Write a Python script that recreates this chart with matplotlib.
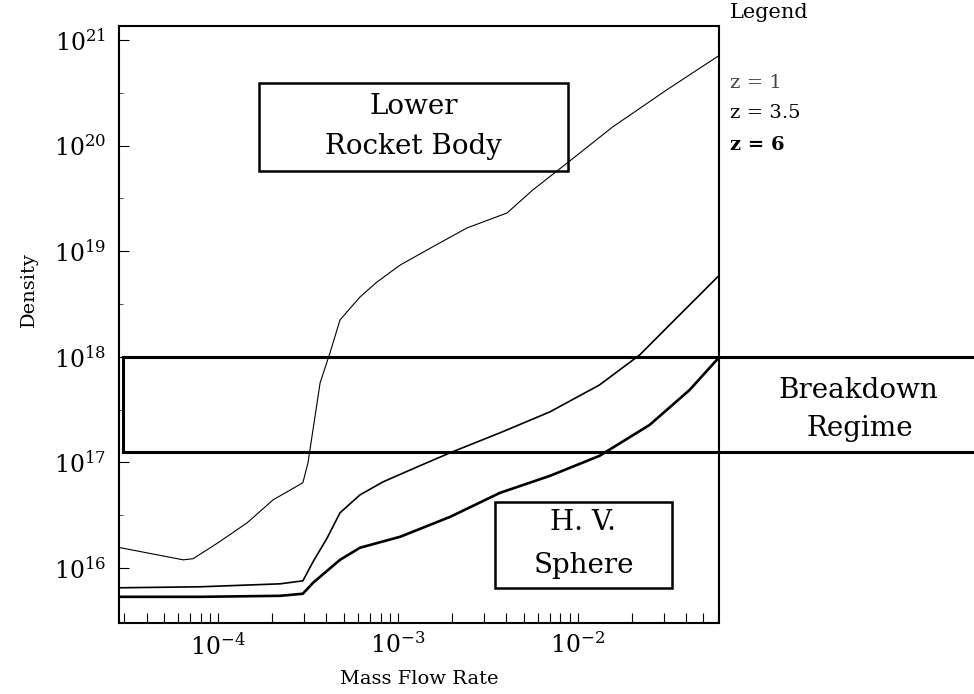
import math
import matplotlib
matplotlib.use("Agg")
import matplotlib.pyplot as plt
from matplotlib.patches import Rectangle
from matplotlib.ticker import FixedLocator, FuncFormatter, NullFormatter
import matplotlib.transforms as mtransforms

plt.rcParams["font.family"] = ["DejaVu Serif"]
plt.rcParams["mathtext.fontset"] = "dejavuserif"

# curve data (mass flow rate, density)
flow_z1 = [2.86e-5, 6.4e-5, 7.26e-5, 1.0e-4, 1.45e-4, 2.02e-4, 2.96e-4, 3.16e-4,
           3.69e-4, 4.19e-4, 4.76e-4, 6.15e-4, 7.64e-4, 1.03e-3, 1.56e-3, 2.42e-3,
           4.04e-3, 5.62e-3, 8.69e-3, 1.56e-2, 3.12e-2, 6.15e-2]
dens_z1 = [1.55e16, 1.19e16, 1.22e16, 1.73e16, 2.67e16, 4.4e16, 6.4e16, 9.9e16,
           5.65e17, 1.09e18, 2.23e18, 3.68e18, 5.1e18, 7.4e18, 1.1e19, 1.66e19,
           2.3e19, 3.8e19, 6.8e19, 1.5e20, 3.37e20, 7.2e20]

flow_z35 = [2.86e-5, 7.94e-5, 2.21e-4, 2.96e-4, 3.37e-4, 4.04e-4, 4.76e-4, 6.15e-4,
            8.26e-4, 1.28e-3, 1.95e-3, 3.69e-3, 6.99e-3, 1.32e-2, 2.21e-2, 3.37e-2,
            4.76e-2, 6.15e-2]
dens_z35 = [6.47e15, 6.61e15, 7.05e15, 7.53e15, 1.14e16, 1.92e16, 3.32e16, 4.91e16,
            6.52e16, 9.04e16, 1.23e17, 1.9e17, 3.0e17, 5.4e17, 1.04e18, 2.14e18,
            3.85e18, 5.96e18]

flow_z6 = [2.86e-5, 7.94e-5, 2.21e-4, 2.96e-4, 3.37e-4, 4.76e-4, 6.15e-4, 1.03e-3,
           1.95e-3, 3.69e-3, 6.99e-3, 1.32e-2, 2.51e-2, 4.19e-2, 6.15e-2]
dens_z6 = [5.31e15, 5.31e15, 5.43e15, 5.68e15, 7.21e15, 1.19e16, 1.55e16, 1.97e16,
           3.04e16, 5.13e16, 7.43e16, 1.15e17, 2.26e17, 4.85e17, 1.0e18]

breakdown_lo = 1.26e17
breakdown_hi = 1.0e18

x_major = [1e-4, 1e-3, 1e-2]
y_major = [1e16, 1e17, 1e18, 1e19, 1e20, 1e21]

fig = plt.figure(figsize=(9.74, 6.94), dpi=100)
ax = fig.add_axes([119 / 974, 71 / 694, 600 / 974, 597 / 694])

ax.plot(flow_z1, dens_z1, color="black", lw=0.8)
ax.plot(flow_z35, dens_z35, color="black", lw=1.2)
ax.plot(flow_z6, dens_z6, color="black", lw=1.9)

ax.set_xscale("log")
ax.set_yscale("log")
ax.set_xlim(2.81e-5, 6.1e-2)
ax.set_ylim(3.0e15, 1.36e21)

# x ticks: every minor position, same length
x_minor = [m * 10.0 ** e for e in (-5, -4, -3, -2) for m in range(2, 10)]
ax.xaxis.set_major_locator(FixedLocator(x_major))
ax.xaxis.set_minor_locator(FixedLocator(x_minor))
ax.xaxis.set_minor_formatter(NullFormatter())
ax.yaxis.set_major_locator(FixedLocator(y_major))
ax.yaxis.set_minor_locator(FixedLocator([3.16 * v for v in y_major]))
ax.yaxis.set_minor_formatter(NullFormatter())

fmt = FuncFormatter(lambda v, p: r"$\mathregular{10^{%d}}$" % round(math.log10(v)))
ax.xaxis.set_major_formatter(fmt)
ax.yaxis.set_major_formatter(fmt)
ax.tick_params(axis="both", which="both", direction="in", top=False, right=False)
ax.tick_params(axis="x", which="both", length=7, width=0.8, labelsize=17, pad=7)
ax.tick_params(axis="y", which="major", length=7, width=0.8, labelsize=17, pad=9)
ax.tick_params(axis="y", which="minor", length=3, width=0.5)

for s in ax.spines.values():
    s.set_linewidth(1.5)

ax.set_xlabel("Mass Flow Rate", fontsize=14)
ax.set_ylabel("Density", fontsize=14)
ax.xaxis.set_label_coords(0.5, -0.078)
ax.yaxis.set_label_coords(-0.135, 0.558)

# breakdown band running out to the figure edge
tr = mtransforms.blended_transform_factory(fig.transFigure, ax.transData)
x0 = 123 / 974
for yv in (breakdown_lo, breakdown_hi):
    ax.plot([x0, 1.0], [yv, yv], transform=tr, color="black", lw=2.2, clip_on=False)
ax.plot([x0, x0], [breakdown_lo, breakdown_hi], transform=tr, color="black", lw=2.2,
        clip_on=False)

# labelled boxes
ax.add_patch(Rectangle((0.233, 0.757), 0.516, 0.148, transform=ax.transAxes,
                       fill=False, lw=1.8, ec="black"))
ax.text(0.491, 0.865, "Lower", transform=ax.transAxes, ha="center", va="center", fontsize=20)
ax.text(0.491, 0.798, "Rocket Body", transform=ax.transAxes, ha="center", va="center",
        fontsize=20)

ax.add_patch(Rectangle((0.626, 0.0586), 0.296, 0.144, transform=ax.transAxes,
                       fill=False, lw=1.8, ec="black"))
ax.text(0.774, 0.169, "H. V.", transform=ax.transAxes, ha="center", va="center", fontsize=20)
ax.text(0.774, 0.097, "Sphere", transform=ax.transAxes, ha="center", va="center", fontsize=20)

fig.text(858 / 974, 1 - 390 / 694, "Breakdown", ha="center", va="center", fontsize=20)
fig.text(860 / 974, 1 - 428 / 694, "Regime", ha="center", va="center", fontsize=20)

# legend
fig.text(730 / 974, 1 - 13 / 694, "Legend", ha="left", va="center", fontsize=15)
fig.text(730 / 974, 1 - 83 / 694, "z = 1", ha="left", va="center", fontsize=14, color="#444444")
fig.text(730 / 974, 1 - 113 / 694, "z = 3.5", ha="left", va="center", fontsize=14)
fig.text(730 / 974, 1 - 145 / 694, "z = 6", ha="left", va="center", fontsize=14,
         fontweight="bold")

fig.savefig("out.png", dpi=100)
